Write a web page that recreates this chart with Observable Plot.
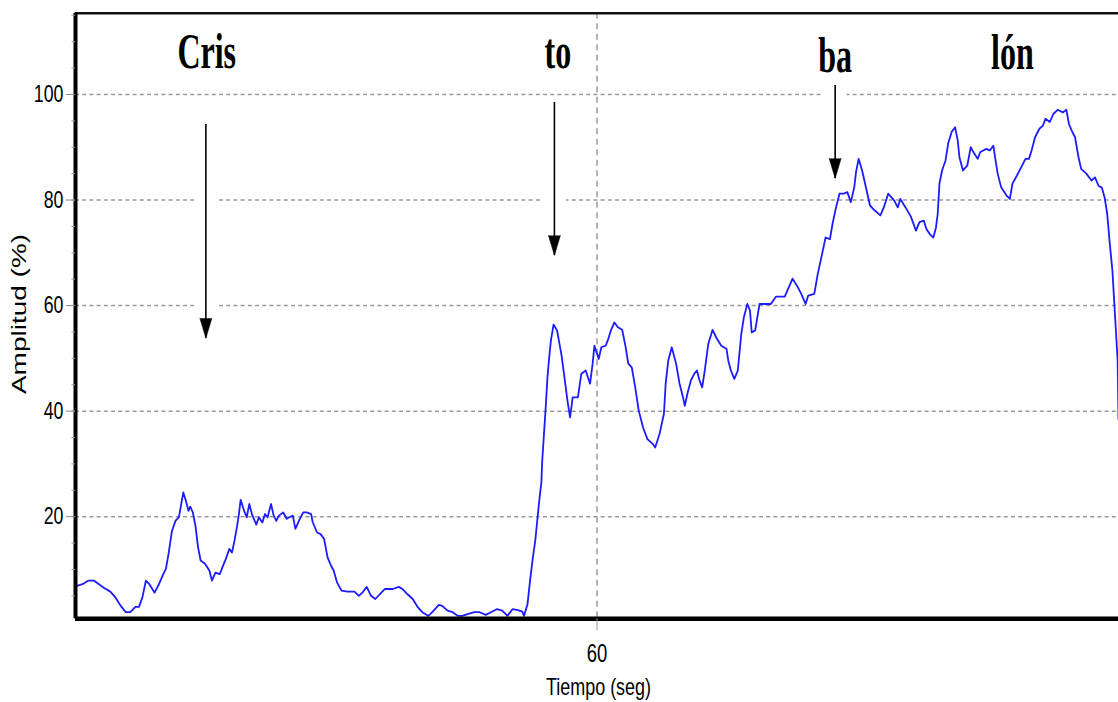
<!DOCTYPE html>
<html>
<head>
<meta charset="utf-8">
<script src="https://cdn.jsdelivr.net/npm/d3@7"></script>
<script src="https://cdn.jsdelivr.net/npm/@observablehq/plot@0.6"></script>
<style>
  html, body { margin: 0; padding: 0; background: #fff; }
  #chart { width: 1118px; height: 702px; overflow: hidden; }
</style>
</head>
<body>
<div id="chart"></div>
<script>
// Amplitude envelope of the utterance "Cristobalón": [time (s), amplitude (%)]
const signal = [
  [0,6.8],[0.8,7.2],[1.5,7.9],[2.1,7.9],[2.7,7.2],[3.3,6.5],[4.0,5.8],[4.6,4.7],[5.2,3.1],[5.8,1.9],
  [6.3,1.9],[6.9,2.9],[7.3,2.9],[7.7,4.7],[8.1,7.9],[8.5,7.2],[9.1,5.6],[9.6,7.2],[10.1,9.1],[10.4,10.1],
  [10.7,12.9],[11.1,17.3],[11.5,19.2],[11.9,19.9],[12.1,21.8],[12.4,24.6],[12.7,23.0],[13.0,21.1],[13.2,21.9],[13.5,20.8],
  [13.8,18.3],[14.1,14.2],[14.4,11.7],[14.9,11.1],[15.4,9.8],[15.7,7.9],[16.1,9.4],[16.6,9.1],[16.9,10.4],[17.3,12.0],
  [17.7,13.9],[18.0,13.2],[18.3,15.5],[18.6,18.3],[18.8,20.5],[19.0,23.2],[19.4,21.1],[19.7,19.9],[20.0,22.4],[20.3,20.5],
  [20.8,18.5],[21.1,19.9],[21.5,18.9],[21.8,20.5],[22.1,19.9],[22.5,22.4],[22.8,20.2],[23.1,19.2],[23.4,20.2],[23.9,20.8],
  [24.3,19.6],[24.6,19.9],[25.0,20.2],[25.3,17.7],[25.7,19.2],[26.2,20.8],[26.6,20.8],[27.1,20.5],[27.3,18.9],[27.8,17.0],
  [28.2,16.7],[28.6,15.8],[29.0,12.3],[29.4,10.7],[29.7,9.8],[30.1,7.5],[30.6,6.0],[31.3,5.8],[32.1,5.8],[32.6,5.0],
  [33.0,5.6],[33.5,6.7],[34.0,5.0],[34.5,4.4],[35.0,5.3],[35.6,6.3],[36.5,6.3],[37.2,6.7],[37.6,6.3],[38.2,5.3],
  [38.8,4.4],[39.4,2.8],[39.9,1.9],[40.6,1.2],[41.1,2.0],[41.8,3.3],[42.2,3.1],[42.8,2.2],[43.4,1.9],[44.0,1.2],
  [44.5,1.2],[45.2,1.6],[45.9,1.9],[46.5,1.9],[47.2,1.4],[47.8,1.9],[48.5,2.5],[49.1,2.2],[49.7,1.2],[50.3,2.5],
  [50.9,2.3],[51.4,2.0],[51.6,1.2],[52.0,3.4],[52.3,7.9],[52.6,12.0],[52.9,15.5],[53.2,20.5],[53.4,23.7],[53.6,26.5],
  [53.7,30.6],[53.9,35.7],[54.1,40.7],[54.3,46.4],[54.5,50.2],[54.7,53.4],[55.0,56.4],[55.4,55.3],[55.9,50.8],[56.2,47.1],
  [56.6,42.0],[56.9,38.8],[57.2,42.6],[57.8,42.6],[58.2,47.1],[58.7,47.7],[59.2,45.2],[59.5,49.0],[59.7,52.4],[60.2,49.9],
  [60.5,52.1],[61.0,52.4],[61.3,53.7],[61.6,55.3],[62.0,56.8],[62.4,55.9],[62.9,55.4],[63.3,52.1],[63.6,49.0],[64.0,48.3],
  [64.4,44.5],[64.8,40.1],[65.3,36.9],[65.8,34.7],[66.4,33.8],[66.7,33.1],[67.2,35.7],[67.7,39.5],[67.9,45.2],[68.2,49.6],
  [68.6,52.1],[69.1,49.0],[69.5,45.2],[69.9,42.6],[70.1,41.0],[70.4,43.3],[70.8,45.8],[71.2,47.1],[71.5,47.7],[71.8,45.8],
  [72.1,44.5],[72.4,47.7],[72.8,52.7],[73.3,55.4],[73.7,54.0],[74.3,52.4],[74.9,51.8],[75.1,49.6],[75.4,47.7],[75.8,46.1],
  [76.2,47.7],[76.6,54.6],[76.9,57.8],[77.3,60.3],[77.6,59.1],[77.8,54.9],[78.2,55.3],[78.7,60.3],[79.5,60.3],[80.0,60.3],
  [80.6,61.7],[81.6,61.7],[82.0,63.2],[82.5,65.1],[83.1,63.5],[83.5,62.2],[84.0,60.3],[84.3,61.9],[85.0,62.2],[85.4,66.0],
  [85.9,69.8],[86.3,72.9],[86.8,72.6],[87.1,75.5],[87.5,78.6],[87.9,81.2],[88.4,81.2],[88.8,81.5],[89.2,79.6],[89.6,82.4],
  [89.8,85.3],[90.1,87.8],[90.5,85.6],[90.9,82.7],[91.4,79.0],[91.9,78.1],[92.6,77.1],[93.0,78.6],[93.5,81.2],[94.2,79.9],
  [94.6,78.6],[94.9,80.2],[95.5,78.6],[96.1,76.9],[96.7,74.2],[97.1,75.8],[97.6,76.1],[97.9,74.5],[98.3,73.5],[98.7,72.9],
  [99.0,74.8],[99.2,77.4],[99.4,83.1],[99.7,85.6],[100.1,87.5],[100.4,90.7],[100.8,92.9],[101.2,93.8],[101.5,91.3],[101.7,88.1],
  [102.1,85.6],[102.6,86.5],[103.0,90.0],[103.4,88.8],[103.8,87.8],[104.1,89.1],[104.8,89.7],[105.2,89.4],[105.6,90.3],[105.8,88.1],
  [106.1,85.0],[106.5,82.4],[107.1,80.9],[107.5,80.2],[107.8,83.1],[108.3,84.6],[108.8,86.2],[109.3,87.8],[109.7,87.8],[110.0,89.4],
  [110.4,91.9],[110.9,93.5],[111.3,94.1],[111.6,95.4],[112.1,94.8],[112.5,96.3],[113.0,97.1],[113.6,96.6],[114.0,97.1],[114.3,94.4],
  [114.6,93.2],[115.0,91.9],[115.4,88.1],[115.7,85.9],[116.3,85.0],[116.9,83.7],[117.3,84.3],[117.7,82.7],[118.1,82.3],[118.4,80.5],
  [118.7,77.4],[119.0,71.7],[119.3,66.6],[119.5,60.9],[119.7,55.3],[119.9,49.6],[120.0,38.5]
];

// Axes
const xDomain = [0, 120];
const yDomain = [0.65, 115.4];
const xTicks = [60];
const yTicks = [20, 40, 60, 80, 100];
const yMinorTicks = [5, 10, 15, 20, 25, 30, 35, 40, 45, 50, 55, 60, 65, 70, 75, 80, 85, 90, 95, 100, 105, 110, 115];
const xLabel = "Tiempo (seg)";
const yLabel = "Amplitud (%)";

// Syllable annotations
const syllables = ["Cris", "to", "ba", "lón"];
const syllableTime = [15.1, 55.5, 87.4, 107.8];
const syllableLevel = [105.1, 105.1, 104.2, 104.9];

// Onset arrows (time, top of shaft, tip)
const arrowTime = [15.0, 55.1, 87.4];
const arrowFrom = [94.3, 98.5, 101.7];
const arrowTo = [53.8, 69.5, 84.1];

const series = signal.map(([t, a]) => ({t, a}));
const labels = syllables.map((s, i) => ({s, t: syllableTime[i], y: syllableLevel[i]}));
const arrows = arrowTime.map((t, i) => ({t, from: arrowFrom[i], to: arrowTo[i]}));

const grid = "#9a9a9a";

const chart = Plot.plot({
  width: 1118,
  height: 702,
  marginLeft: 75,
  marginRight: 0,
  marginTop: 12.7,
  marginBottom: 83.7,
  x: {domain: xDomain, label: null},
  y: {domain: yDomain, label: null},
  style: {background: "#fff", fontFamily: "'Liberation Sans', Arial, sans-serif", color: "#000"},
  marks: [
    // dashed grid
    Plot.ruleY(yTicks, {stroke: grid, strokeWidth: 1.5, strokeDasharray: "4,3.2"}),
    Plot.ruleX(xTicks, {stroke: grid, strokeWidth: 1.5, strokeDasharray: "6,4.5"}),
    // white gap behind arrows
    Plot.ruleX(arrows, {x: "t", y1: "to", y2: "from", stroke: "#fff", strokeWidth: 23}),
    // arrow shafts and heads
    Plot.ruleX(arrows, {x: "t", y1: "to", y2: "from", stroke: "#000", strokeWidth: 1.6}),
    Plot.vector(arrows, {x: "t", y: "to", length: 20, rotate: 180, anchor: "end", shape: "spike", r: 6, fill: "#000", stroke: "#000", strokeWidth: 0.5}),
    // amplitude curve
    Plot.line(series, {x: "t", y: "a", stroke: "#1c1cff", strokeWidth: 1.8}),
    // frame
    Plot.ruleY([yDomain[1]], {stroke: "#111", strokeWidth: 2.6}),
    Plot.ruleY([yDomain[0]], {stroke: "#000", strokeWidth: 4.5}),
    Plot.ruleX([xDomain[0]], {stroke: "#000", strokeWidth: 4}),
    // y axis: minor ticks, major ticks, labels
    Plot.axisY(yMinorTicks, {tickSize: 3.5, color: grid, tickFormat: () => "", label: null}),
    Plot.axisY(yTicks, {tickSize: 9, color: "#888", tickFormat: () => "", label: null}),
    Plot.axisY(yTicks, {tickSize: 0, tickPadding: 12, fontSize: 24, color: "#000", label: null}),
    // x axis
    Plot.axisX(xTicks, {tickSize: 12, color: grid, tickFormat: () => "", label: null}),
    Plot.axisX(xTicks, {tickSize: 0, tickPadding: 25, fontSize: 25, color: "#000", label: null}),
    // axis titles
    Plot.text([xLabel], {text: d => d, frameAnchor: "bottom", textAnchor: "middle", dx: 1.5, dy: 76, lineAnchor: "bottom", fontSize: 23, fill: "#000"}),
    Plot.text([yLabel], {text: d => d, frameAnchor: "left", textAnchor: "middle", dx: -50, dy: -2, rotate: -90, lineAnchor: "bottom", fontSize: 28, fill: "#000"}),
    // syllables
    Plot.text(labels, {x: "t", y: "y", text: "s", lineAnchor: "bottom", fontSize: 50, fontWeight: "bold", fontFamily: "'Liberation Serif', 'Times New Roman', serif", fill: "#000"})
  ]
});

// Narrow the lettering horizontally
chart.querySelectorAll("text").forEach(el => {
  const content = el.textContent;
  let sx = 0.74, sy = 1;
  if (syllables.includes(content)) sx = 0.64;
  else if (content === xLabel) sx = 0.78;
  else if (content === yLabel) { sx = 1; sy = 0.7; }
  let tr = el.getAttribute("transform");
  if (!tr) {
    const x = el.getAttribute("x") || 0, y = el.getAttribute("y") || 0;
    el.removeAttribute("x"); el.removeAttribute("y");
    tr = `translate(${x},${y})`;
  }
  el.setAttribute("transform", `${tr} scale(${sx},${sy})`);
});

document.getElementById("chart").appendChild(chart);
</script>
</body>
</html>
